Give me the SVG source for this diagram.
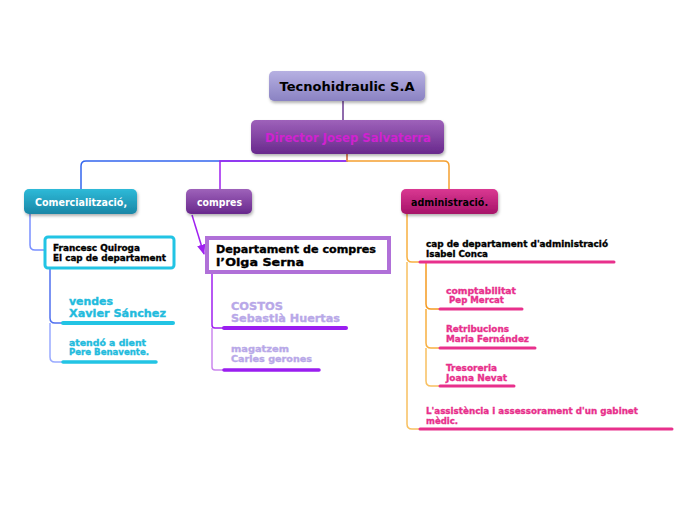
<svg xmlns="http://www.w3.org/2000/svg" width="696" height="520" viewBox="0 0 696 520">
<defs>
<linearGradient id="gRoot" x1="0" y1="0" x2="0" y2="1"><stop offset="0" stop-color="#b6b0e2"/><stop offset="1" stop-color="#8a82c2"/></linearGradient>
<linearGradient id="gPurple" x1="0" y1="0" x2="0" y2="1"><stop offset="0" stop-color="#9e62ba"/><stop offset="1" stop-color="#68288c"/></linearGradient>
<linearGradient id="gTeal" x1="0" y1="0" x2="0" y2="1"><stop offset="0" stop-color="#2ebad8"/><stop offset="1" stop-color="#1a86a6"/></linearGradient>
<linearGradient id="gMag" x1="0" y1="0" x2="0" y2="1"><stop offset="0" stop-color="#da3892"/><stop offset="1" stop-color="#a61268"/></linearGradient>
<filter id="sh" x="-10%" y="-20%" width="120%" height="150%"><feDropShadow dx="1" dy="2" stdDeviation="1.5" flood-color="#000" flood-opacity="0.3"/></filter>
<marker id="arr" viewBox="0 0 10 10" refX="9" refY="5" markerWidth="7" markerHeight="7" orient="auto"><path d="M0,1 L10,5 L0,9 z" fill="#a020f0"/></marker>
<style>
text{font-family:"DejaVu Sans","Verdana",sans-serif;font-weight:bold}
.conn{fill:none;stroke-width:1.5}
.ul{fill:none;stroke-linecap:round}
.t9{font-size:9px;stroke-width:0.35}
.t11{font-size:11px;stroke-width:0.35}
</style>
</defs>
<rect width="696" height="520" fill="#ffffff"/>
<g id="connectors">
<path class="conn" d="M343,100 V120" stroke="#6a3a90" stroke-width="3"/>
<path class="conn" d="M347,154 V161 H86 Q81,161 81,166 V189" stroke="#3366ee"/>
<path class="conn" d="M347,154 V161 H220 V189" stroke="#a020f0"/>
<path class="conn" d="M347,154 V161 H444 Q449,161 449,166 V189" stroke="#f5a030"/>
<path class="conn" d="M30,214 V245 Q30,250 35,250 H45" stroke="#7a90ff"/>
<path class="conn" d="M50,268 V318 Q50,323 55,323 H63" stroke="#5070f0"/>
<path class="conn" d="M50,323 V357 Q50,362 55,362 H63" stroke="#99aaff"/>
<path class="conn" d="M192,215 L204,254" stroke="#a020f0" marker-end="url(#arr)"/>
<path class="conn" d="M212,273 V325 Q212,328 215,328 H224" stroke="#a020f0"/>
<path class="conn" d="M212,328 V367 Q212,370 215,370 H224" stroke="#cc88ee"/>
<path class="conn" d="M407,214 V257 Q407,262 412,262 H420" stroke="#f8b040"/>
<path class="conn" d="M407,262 V424 Q407,429 412,429 H420" stroke="#f8c060"/>
<path class="conn" d="M426,262 V304 Q426,309 431,309 H440" stroke="#f59a20"/>
<path class="conn" d="M426,309 V343 Q426,348 431,348 H440" stroke="#f8b040"/>
<path class="conn" d="M426,348 V381 Q426,386 431,386 H440" stroke="#f8c060"/>
<path class="ul" d="M63,323 H173" stroke="#22c4e4" stroke-width="4"/>
<path class="ul" d="M63,362 H156" stroke="#22c4e4" stroke-width="3.5"/>
<path class="ul" d="M224,328 H346" stroke="#9a1ef0" stroke-width="4"/>
<path class="ul" d="M224,370 H319" stroke="#9a1ef0" stroke-width="3.5"/>
<path class="ul" d="M420,262 H614" stroke="#e8308c" stroke-width="3"/>
<path class="ul" d="M440,309 H522" stroke="#e8308c" stroke-width="3"/>
<path class="ul" d="M440,348 H535" stroke="#e8308c" stroke-width="3"/>
<path class="ul" d="M440,386 H514" stroke="#e8308c" stroke-width="3"/>
<path class="ul" d="M420,429 H672" stroke="#e8308c" stroke-width="3"/>
</g>
<g id="root">
<rect x="269" y="71" width="156" height="30" rx="5" fill="url(#gRoot)" filter="url(#sh)"/>
<text x="347" y="91" font-size="13" text-anchor="middle" fill="#000" textLength="135" lengthAdjust="spacingAndGlyphs">Tecnohidraulic S.A</text>
</g>
<g id="director">
<rect x="251" y="120" width="193" height="34" rx="5" fill="url(#gPurple)" filter="url(#sh)"/>
<text x="348" y="142" font-size="12.5" text-anchor="middle" fill="#d022d0" textLength="166" lengthAdjust="spacingAndGlyphs">Director Josep Salvaterra</text>
</g>
<g id="comercialitzacio">
<rect x="24" y="189" width="113" height="25" rx="5" fill="url(#gTeal)" filter="url(#sh)"/>
<text x="81" y="206" font-size="11" text-anchor="middle" fill="#fff" textLength="92" lengthAdjust="spacingAndGlyphs">Comercialització,</text>
</g>
<g id="compres">
<rect x="186" y="189" width="66" height="25" rx="5" fill="url(#gPurple)" filter="url(#sh)"/>
<text x="219.5" y="206" font-size="11" text-anchor="middle" fill="#fff" textLength="45" lengthAdjust="spacingAndGlyphs">compres</text>
</g>
<g id="administracio">
<rect x="401" y="189" width="97" height="25" rx="5" fill="url(#gMag)" filter="url(#sh)"/>
<text x="449.5" y="206" font-size="11" text-anchor="middle" fill="#000" textLength="77" lengthAdjust="spacingAndGlyphs">administració.</text>
</g>
<g id="francesc" fill="#000" stroke="#000">
<rect x="45" y="237" width="129" height="31" rx="3" fill="#fff" stroke="#22c4e4" stroke-width="3"/>
<text class="t9" x="53" y="251" textLength="87" lengthAdjust="spacingAndGlyphs">Francesc Quiroga</text>
<text class="t9" x="53" y="261" textLength="113" lengthAdjust="spacingAndGlyphs">El cap de departament</text>
</g>
<g id="vendes" fill="#22bbdd" stroke="#22bbdd">
<text class="t11" x="69" y="305" textLength="44" lengthAdjust="spacingAndGlyphs">vendes</text>
<text class="t11" x="69" y="317" textLength="97" lengthAdjust="spacingAndGlyphs">Xavier Sánchez</text>
</g>
<g id="atendo" fill="#22bbdd" stroke="#22bbdd">
<text class="t9" x="69" y="346" textLength="77" lengthAdjust="spacingAndGlyphs">atendó a dient</text>
<text class="t9" x="69" y="355" textLength="80" lengthAdjust="spacingAndGlyphs">Pere Benavente.</text>
</g>
<g id="departament-compres" fill="#000" stroke="#000">
<rect x="207" y="238" width="182" height="34" fill="#fff" stroke="#b070d8" stroke-width="4"/>
<text class="t11" x="216" y="253" textLength="160" lengthAdjust="spacingAndGlyphs">Departament de compres</text>
<text class="t11" x="216" y="266" textLength="88" lengthAdjust="spacingAndGlyphs">l’Olga Serna</text>
</g>
<g id="costos" fill="#b8a8e8" stroke="#b8a8e8">
<text class="t11" x="231" y="310" textLength="52" lengthAdjust="spacingAndGlyphs">COSTOS</text>
<text class="t11" x="231" y="322" textLength="109" lengthAdjust="spacingAndGlyphs">Sebastià Huertas</text>
</g>
<g id="magatzem" fill="#b8a8e8" stroke="#b8a8e8">
<text class="t9" x="231" y="352" textLength="58" lengthAdjust="spacingAndGlyphs">magatzem</text>
<text class="t9" x="231" y="362" textLength="81" lengthAdjust="spacingAndGlyphs">Carles gerones</text>
</g>
<g id="cap-administracio" fill="#000" stroke="#000">
<text class="t9" x="426" y="247" textLength="182" lengthAdjust="spacingAndGlyphs">cap de departament d'administració</text>
<text class="t9" x="426" y="257" textLength="62" lengthAdjust="spacingAndGlyphs">Isabel Conca</text>
</g>
<g id="comptabilitat" fill="#e8308c" stroke="#e8308c">
<text class="t9" x="446" y="294" textLength="70" lengthAdjust="spacingAndGlyphs">comptabilitat</text>
<text class="t9" x="449" y="303" textLength="55" lengthAdjust="spacingAndGlyphs">Pep Mercat</text>
</g>
<g id="retribucions" fill="#e8308c" stroke="#e8308c">
<text class="t9" x="446" y="332" textLength="63" lengthAdjust="spacingAndGlyphs">Retribucions</text>
<text class="t9" x="446" y="342" textLength="83" lengthAdjust="spacingAndGlyphs">Maria Fernández</text>
</g>
<g id="tresoreria" fill="#e8308c" stroke="#e8308c">
<text class="t9" x="446" y="371" textLength="51" lengthAdjust="spacingAndGlyphs">Tresoreria</text>
<text class="t9" x="446" y="381" textLength="61" lengthAdjust="spacingAndGlyphs">Joana Nevat</text>
</g>
<g id="assistencia" fill="#e8308c" stroke="#e8308c">
<text class="t9" x="426" y="414" textLength="212" lengthAdjust="spacingAndGlyphs">L'assistència i assessorament d'un gabinet</text>
<text class="t9" x="426" y="424" textLength="32" lengthAdjust="spacingAndGlyphs">mèdic.</text>
</g>
</svg>
